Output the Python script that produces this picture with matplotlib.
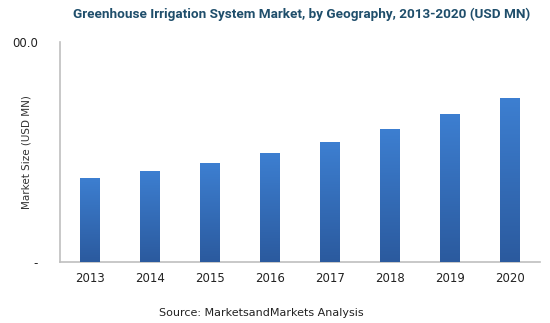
import matplotlib
matplotlib.use("Agg")
import matplotlib.pyplot as plt
import numpy as np
from matplotlib.colors import LinearSegmentedColormap

years = ["2013", "2014", "2015", "2016", "2017", "2018", "2019", "2020"]
values = [382, 414, 450, 495, 545, 605, 673, 745]
ytick_vals = [0, 1000]
ytick_labels = ["-", "00.0"]

fig = plt.figure(figsize=(5.5, 3.23), dpi=100)
ax = fig.add_axes([60/550, (323-262)/323, 480/550, 220/323])

x = np.arange(len(years))
bars = ax.bar(x, values, width=0.32, color="#3370c0", zorder=2)

grad = np.linspace(0, 1, 256).reshape(-1, 1)
cmap = LinearSegmentedColormap.from_list("g", ["#2b5a9e", "#3d7fd1"])
for b in bars:
    x0, y0 = b.get_x(), b.get_y()
    w, h = b.get_width(), b.get_height()
    im = ax.imshow(grad, cmap=cmap, aspect="auto", extent=[x0, x0 + w, y0, y0 + h],
                   origin="lower", zorder=3)
    im.set_clip_path(b)

ax.set_xlim(-0.5, len(years) - 0.5)
ax.set_ylim(0, 1000)
ax.set_xticks(x)
ax.set_xticklabels(years, fontsize=8.5, family="DejaVu Sans", color="#222222")
ax.set_yticks(ytick_vals)
ax.set_yticklabels(ytick_labels, fontsize=8.5, family="DejaVu Sans", color="#222222")
ax.tick_params(length=0, pad=16)
ax.tick_params(axis="x", pad=7)
for s in ["top", "right"]:
    ax.spines[s].set_visible(False)
for s in ["left", "bottom"]:
    ax.spines[s].set_color("#bfbfbf")
    ax.spines[s].set_linewidth(1.2)

ax.set_ylabel("Market Size (USD MN)", fontsize=7.5, family="DejaVu Sans", color="#333333")
ax.yaxis.set_label_coords(-0.06, 0.5)

fig.text(0.548, 0.955, "Greenhouse Irrigation System Market, by Geography, 2013-2020 (USD MN)",
         ha="center", va="center", fontsize=9.7, fontweight="bold",
         family="Roboto", color="#1f4e6b")
fig.text(0.475, 0.031, "Source: MarketsandMarkets Analysis", ha="center", va="center",
         fontsize=8, family="DejaVu Sans", color="#222222")

fig.savefig("out.png", dpi=100)
